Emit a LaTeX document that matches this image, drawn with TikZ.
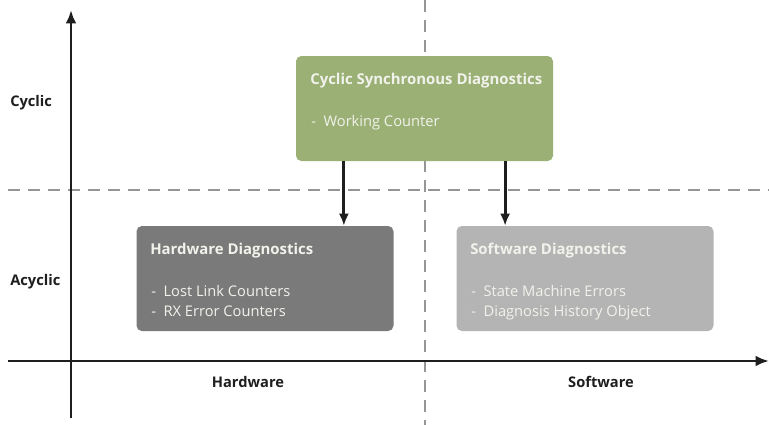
\documentclass[tikz,border=0pt]{standalone}
\usepackage{fontspec}
\setmainfont{Open Sans}
\usetikzlibrary{positioning,calc,arrows.meta}

\definecolor{cycgreen}{RGB}{154,176,116}
\definecolor{hwgray}{RGB}{122,122,122}
\definecolor{swgray}{RGB}{180,180,180}
\definecolor{dashgray}{RGB}{150,150,150}
\definecolor{axisblack}{RGB}{30,30,30}
\definecolor{boxtext}{RGB}{242,242,236}

\tikzset{
  diagbox/.style={rounded corners=4pt,minimum width=192.75pt,minimum height=78.75pt,inner sep=0pt},
  boxtitle/.style={anchor=base west,font=\bfseries\fontsize{11.2}{13}\selectfont,text=boxtext,inner sep=0pt},
  boxitem/.style={anchor=base west,font=\fontsize{11}{13}\selectfont,text=boxtext,inner sep=0pt},
  axislabel/.style={font=\bfseries\fontsize{11}{13}\selectfont,text=axisblack,inner sep=0pt},
  divider/.style={dashgray,line width=2.2pt,dash pattern=on 9pt off 6pt},
  axisline/.style={axisblack,line width=2.2pt,-{Latex[length=10pt,width=8pt]}},
  flow/.style={axisblack,line width=2.2pt,-{Latex[length=9pt,width=7.5pt]}}
}

\begin{document}
\begin{tikzpicture}[x=0.75pt,y=-0.75pt]
\useasboundingbox[fill=white] (0,0) rectangle (769,425);

% quadrant dividers
\draw[divider] (8,190) -- (769,190);
\draw[divider] (425,0) -- (425,425);

% axes
\coordinate (ybot) at (71,418);
\coordinate (ytop) at (71,10);
\coordinate (xleft) at (8,361);
\coordinate (xright) at (769,361);
\draw[axisline] (ybot) -- (ytop);
\draw[axisline] (xleft) -- (xright);

\node[axislabel,anchor=base west] (cyclic) at (10,106) {Cyclic};
\node[axislabel,anchor=base west] (acyclic) at (10,285) {Acyclic};
\node[axislabel,anchor=base] (hwlabel) at (248,387) {Hardware};
\node[axislabel,anchor=base] (swlabel) at (601,387) {Software};

% diagnostic boxes
\node[diagbox,fill=cycgreen] (csd) at (424.5,108.5) {};
\node[diagbox,fill=hwgray] (hwd) at (265,278.5) {};
\node[diagbox,fill=swgray] (swd) at (585,278.5) {};

\node[boxtitle] (csdtitle) at (310,84) {Cyclic Synchronous Diagnostics};
\node[boxitem] (csditem) at (311,126) {-\ \ Working Counter};

\node[boxtitle] (hwdtitle) at (150,254) {Hardware Diagnostics};
\node[boxitem] (hwditema) at (151,296) {-\ \ Lost Link Counters};
\node[boxitem] (hwditemb) at (151,316) {-\ \ RX Error Counters};

\node[boxtitle] (swdtitle) at (470,254) {Software Diagnostics};
\node[boxitem] (swditema) at (471,296) {-\ \ State Machine Errors};
\node[boxitem] (swditemb) at (471,316) {-\ \ Diagnosis History Object};

% cyclic results feed both acyclic groups
\coordinate (toleft) at ($(csd.south west)!0.187!(csd.south east)$);
\coordinate (toright) at ($(csd.south west)!0.813!(csd.south east)$);
\draw[flow] (toleft) -- (toleft |- hwd.north);
\draw[flow] (toright) -- (toright |- swd.north);
\end{tikzpicture}
\end{document}
